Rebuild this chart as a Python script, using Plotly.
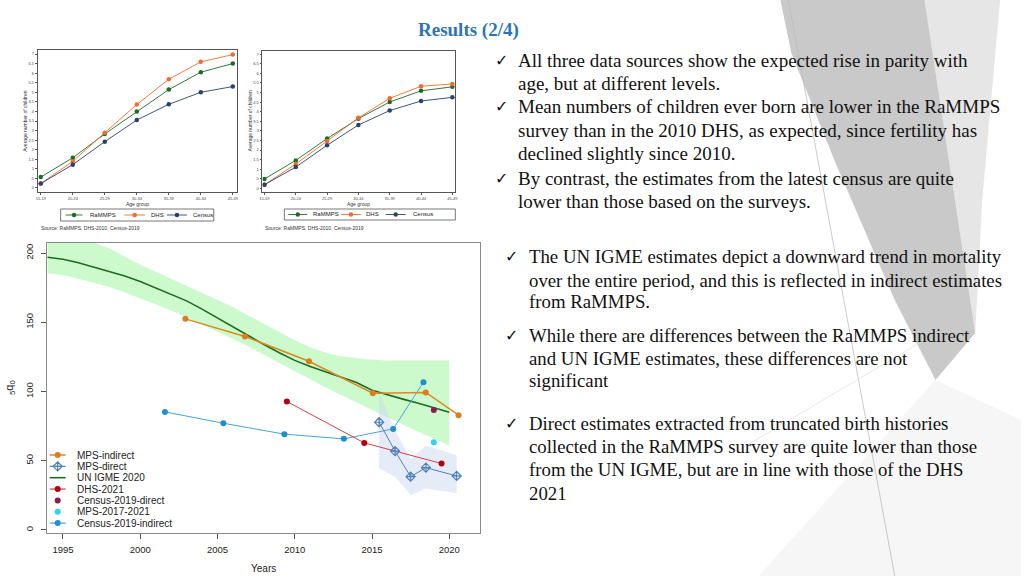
import plotly.graph_objects as go

W, H = 1024, 576

# ---------------- data: top panels (mean children ever born by age group) ----------------
age_groups = ["15-19", "20-24", "25-29", "30-34", "35-39", "40-44", "45-49"]
left_rammps = [0.57, 1.58, 2.82, 4.00, 5.14, 6.05, 6.50]
left_dhs = [0.23, 1.39, 2.89, 4.36, 5.68, 6.59, 6.97]
left_census = [0.23, 1.22, 2.42, 3.55, 4.37, 5.00, 5.30]
right_rammps = [0.49, 1.46, 2.60, 3.64, 4.51, 5.09, 5.30]
right_dhs = [0.19, 1.27, 2.47, 3.68, 4.70, 5.33, 5.45]
right_census = [0.19, 1.11, 2.25, 3.31, 4.06, 4.56, 4.75]
parity_tickvals = [0, 0.5, 1, 1.5, 2, 2.5, 3, 3.5, 4, 4.5, 5, 5.5, 6, 6.5, 7]
parity_ticktext = ["0", ".5", "1", "1.5", "2", "2.5", "3", "3.5", "4", "4.5", "5", "5.5", "6", "6.5", "7"]
top_series = ["RaMMPS", "DHS", "Census"]
top_source = "Source: RaMMPS, DHS-2010, Census-2019"

# ---------------- data: bottom panel (5q0) ----------------
igme_years = [1994, 1995, 1996, 1997, 1998, 1999, 2000, 2001, 2002, 2003, 2004, 2005, 2006, 2007,
              2008, 2009, 2010, 2011, 2012, 2013, 2014, 2015, 2016, 2017, 2018, 2019, 2020]
igme_median = [197, 195.5, 193, 190, 187, 183.5, 179.5, 175, 170.5, 165.5, 159.5, 153, 146.5, 140,
               134, 128, 122.5, 118, 114, 110.5, 106.5, 101, 97.5, 94.5, 91.5, 88, 85]
igme_lower = [185.5, 184, 181.5, 178.5, 175.5, 171.5, 167.5, 163, 158.5, 153.5, 148.5, 143.5, 138, 132.5,
              126.5, 120.5, 114.5, 108.5, 103, 97.5, 92, 86.5, 81, 76, 71, 66, 61]
igme_upper = [212, 211, 209.5, 207.5, 203.5, 197.5, 191.5, 186.5, 181.5, 176.5, 171.5, 166.5, 161, 155,
              149, 143, 137, 132, 128, 125.5, 124, 123, 122.5, 122.5, 122.5, 122.5, 122.5]
mps_indirect_x = [2002.92, 2006.78, 2010.92, 2015.05, 2018.48, 2020.6]
mps_indirect_y = [152.5, 139.8, 121.9, 98.8, 99.3, 82.9]
mps_direct_x = [2015.46, 2016.49, 2017.5, 2018.49, 2020.48]
mps_direct_y = [77.8, 57.0, 38.5, 45.0, 39.0]
mps_direct_upper = [98.8, 72.0, 51.0, 61.0, 54.0]
mps_direct_lower = [44.6, 38.5, 25.3, 30.0, 26.5]
dhs2021_x = [2009.49, 2014.5, 2019.5]
dhs2021_y = [92.8, 62.9, 48.0]
census_direct_x = [2019.0]
census_direct_y = [86.7]
mps1721_x = [2019.0]
mps1721_y = [63.4]
census_indirect_x = [2001.6, 2005.38, 2009.33, 2013.18, 2016.37, 2018.33]
census_indirect_y = [85.3, 77.1, 69.2, 65.8, 73.0, 106.7]
year_ticks = [1995, 2000, 2005, 2010, 2015, 2020]
q5_ticks = [0, 50, 100, 150, 200]

# ---------------- texts ----------------
title_text = "Results (2/4)"
block1 = [
    (True, "All three data sources show the expected rise in parity with"),
    (False, "age, but at different levels."),
    (True, "Mean numbers of children ever born are lower in the RaMMPS"),
    (False, "survey than in the 2010 DHS, as expected, since fertility has"),
    (False, "declined slightly since 2010."),
    (True, "By contrast, the estimates from the latest census are quite"),
    (False, "lower than those based on the surveys."),
]
block2 = [
    (True, "The UN IGME estimates depict a downward trend in mortality"),
    (False, "over the entire period, and this is reflected in indirect estimates"),
    (False, "from RaMMPS."),
    (True, "While there are differences between the RaMMPS indirect"),
    (False, "and UN IGME estimates, these differences are not"),
    (False, "significant"),
    (True, "Direct estimates extracted from truncated birth histories"),
    (False, "collected in the RaMMPS survey are quite lower than those"),
    (False, "from the UN IGME, but are in line with those of the DHS"),
    (False, "2021"),
]

# ---------------- helpers ----------------
def fx(x):
    return x / W


def fy(y):
    return 1 - y / H


def ppath(pts):
    return "M " + " L ".join(f"{fx(a):.5f},{fy(b):.5f}" for a, b in pts) + " Z"


SANS = "Liberation Sans, Arial, Helvetica, sans-serif"
SERIF = "Liberation Serif, Times New Roman, serif"

top_colors = {"RaMMPS": "#1d6b27", "DHS": "#f26b2b", "Census": "#28426c"}

bot_style = {
    "MPS-indirect": dict(line="#D98A22", marker="#E07B1F", symbol="circle", lw=1.5),
    "MPS-direct": dict(line="#4F82B8", marker="#4F82B8", symbol="diamond-cross-open", lw=1.0),
    "UN IGME 2020": dict(line="#1F6B1F", marker=None, symbol=None, lw=1.6),
    "DHS-2021": dict(line="#D04048", marker="#B00012", symbol="circle", lw=1.0),
    "Census-2019-direct": dict(line=None, marker="#8E1A4F", symbol="circle", lw=0),
    "MPS-2017-2021": dict(line=None, marker="#2ED3F0", symbol="circle", lw=0),
    "Census-2019-indirect": dict(line="#45A3DA", marker="#1E8FD0", symbol="circle", lw=1.0),
}

fig = go.Figure()

# ---------------- bottom panel ----------------
fig.add_trace(go.Scatter(x=igme_years, y=igme_lower, mode="lines", line=dict(width=0),
                         showlegend=False, hoverinfo="skip", xaxis="x", yaxis="y"))
fig.add_trace(go.Scatter(x=igme_years, y=igme_upper, mode="lines", line=dict(width=0),
                         fill="tonexty", fillcolor="rgb(204,250,204)",
                         showlegend=False, hoverinfo="skip", xaxis="x", yaxis="y"))
fig.add_trace(go.Scatter(x=mps_direct_x + mps_direct_x[::-1],
                         y=mps_direct_upper + mps_direct_lower[::-1],
                         mode="lines", line=dict(width=0), fill="toself",
                         fillcolor="rgba(200,210,240,0.45)",
                         showlegend=False, hoverinfo="skip", xaxis="x", yaxis="y"))


def add_bot(name, xs, ys):
    s = bot_style[name]
    mode = []
    if s["line"]:
        mode.append("lines")
    if s["marker"]:
        mode.append("markers")
    kw = dict(x=xs, y=ys, mode="+".join(mode), name=name, showlegend=False, xaxis="x", yaxis="y")
    if s["line"]:
        kw["line"] = dict(color=s["line"], width=s["lw"])
    if s["marker"]:
        if s["symbol"] == "diamond-cross-open":
            kw["marker"] = dict(color=s["marker"], symbol=s["symbol"], size=7, line=dict(width=1.2, color=s["marker"]))
        else:
            kw["marker"] = dict(color=s["marker"], symbol=s["symbol"], size=6)
    fig.add_trace(go.Scatter(**kw))


add_bot("UN IGME 2020", igme_years, igme_median)
add_bot("Census-2019-indirect", census_indirect_x, census_indirect_y)
add_bot("DHS-2021", dhs2021_x, dhs2021_y)
add_bot("MPS-direct", mps_direct_x, mps_direct_y)
add_bot("MPS-indirect", mps_indirect_x, mps_indirect_y)
add_bot("Census-2019-direct", census_direct_x, census_direct_y)
add_bot("MPS-2017-2021", mps1721_x, mps1721_y)

# ---------------- top panels ----------------
for xa, ya, series in (("x2", "y2", (left_rammps, left_dhs, left_census)),
                       ("x3", "y3", (right_rammps, right_dhs, right_census))):
    for name, vals in zip(top_series, series):
        fig.add_trace(go.Scatter(x=age_groups, y=vals, mode="lines+markers", name=name,
                                 line=dict(color=top_colors[name], width=0.9),
                                 marker=dict(color=top_colors[name], size=4.5),
                                 showlegend=False, xaxis=xa, yaxis=ya))

# ---------------- manual legends (overlay pixel axis x4/y4) ----------------
def key(x0, x1, y, lcolor, lw, mcolor=None, symbol="circle", msize=5):
    if lcolor:
        fig.add_trace(go.Scatter(x=[x0, x1], y=[y, y], mode="lines", line=dict(color=lcolor, width=lw),
                                 showlegend=False, hoverinfo="skip", xaxis="x4", yaxis="y4"))
    if mcolor:
        mk = dict(color=mcolor, symbol=symbol, size=msize)
        if symbol.endswith("open"):
            mk["line"] = dict(width=1.2, color=mcolor)
        fig.add_trace(go.Scatter(x=[(x0 + x1) / 2], y=[y], mode="markers", marker=mk,
                                 showlegend=False, hoverinfo="skip", xaxis="x4", yaxis="y4"))


annotations = []
shapes = []

# bottom legend
leg_y0, leg_dy = 455, 11.35
for i, name in enumerate(bot_style):
    s = bot_style[name]
    y = leg_y0 + i * leg_dy
    key(47, 63, y, s["line"], max(s["lw"], 1.2), s["marker"], s["symbol"] or "circle",
        7 if s["symbol"] == "diamond-cross-open" else 6)
    annotations.append(dict(x=fx(72), y=fy(y), xref="paper", yref="paper", text=name, showarrow=False,
                            xanchor="left", yanchor="middle", font=dict(family=SANS, size=10, color="#222")))

# top legends
top_leg = [
    dict(box=(58, 209, 212, 221), keys=[(63, 80), (122, 143), (165, 185)], texts=[85, 147, 189]),
    dict(box=(283, 209, 455, 220), keys=[(287, 306), (340, 360), (385, 405)], texts=[310, 363, 410]),
]
for lg in top_leg:
    x0, y0, x1, y1 = lg["box"]
    shapes.append(dict(type="rect", xref="paper", yref="paper", x0=fx(x0), x1=fx(x1), y0=fy(y1), y1=fy(y0),
                       line=dict(color="#555", width=0.8), fillcolor="white", layer="below"))
    yc = (y0 + y1) / 2
    for name, (k0, k1), tx in zip(top_series, lg["keys"], lg["texts"]):
        key(k0, k1, yc, top_colors[name], 0.9, top_colors[name], "circle", 4.5)
        annotations.append(dict(x=fx(tx), y=fy(yc), xref="paper", yref="paper", text=name, showarrow=False,
                                xanchor="left", yanchor="middle", font=dict(family=SANS, size=6, color="#222")))

# ---------------- decorative slide background ----------------
shapes += [
    dict(type="path", xref="paper", yref="paper", layer="below", line=dict(width=0), fillcolor="#f6f6f6",
         path=ppath([(760, 576), (1024, 576), (1024, 420), (938, 380)])),
    dict(type="path", xref="paper", yref="paper", layer="below", line=dict(width=0), fillcolor="#e6e6e6",
         path=ppath([(927, 0), (1003, 0), (985, 200), (978, 333)])),
    dict(type="path", xref="paper", yref="paper", layer="below", line=dict(width=0), fillcolor="#c9c9c9",
         path=ppath([(782, 0), (927, 0), (978, 333), (938, 380), (897, 300), (837, 162), (793, 53)])),
    dict(type="line", xref="paper", yref="paper", layer="below", line=dict(color="#bdbdbd", width=0.8),
         x0=fx(790), y0=fy(0), x1=fx(897), y1=fy(576)),
    dict(type="line", xref="paper", yref="paper", layer="below", line=dict(color="#e2e2e2", width=0.8),
         x0=fx(740), y0=fy(450), x1=fx(927), y1=fy(340)),
]

# ---------------- texts ----------------
annotations.append(dict(x=fx(468), y=fy(30), xref="paper", yref="paper", text=f"<b>{title_text}</b>",
                        showarrow=False, xanchor="center", yanchor="middle",
                        font=dict(family=SERIF, size=19, color="#2E74B5")))

for lines, ys, chk_x, txt_x, fsize in (
        (block1, [60.5, 83.3, 106.7, 130, 153, 178, 201.5], 493, 516, 19),
        (block2, [256.7, 280, 301.7, 335, 358.3, 380, 423.3, 446.7, 469.3, 493.3], 503, 527, 18.8)):
    for (chk, text), y in zip(lines, ys):
        if chk:
            annotations.append(dict(x=fx(chk_x), y=fy(y), xref="paper", yref="paper", text="✓", showarrow=False,
                                    xanchor="left", yanchor="middle",
                                    font=dict(family="DejaVu Sans", size=16, color="#111")))
        annotations.append(dict(x=fx(txt_x), y=fy(y), xref="paper", yref="paper", text=text, showarrow=False,
                                xanchor="left", yanchor="middle", font=dict(family=SERIF, size=fsize, color="#111")))

# top panel axis titles and sources
for cx, ytx, sx in ((135, 22, 36), (358, 248, 262)):
    annotations.append(dict(x=fx(cx), y=fy(203.5), xref="paper", yref="paper", text="Age group", showarrow=False,
                            xanchor="center", yanchor="middle", font=dict(family=SANS, size=5, color="#333")))
    annotations.append(dict(x=fx(ytx), y=fy(121), xref="paper", yref="paper", text="Average number of children",
                            showarrow=False, textangle=-90, xanchor="center", yanchor="middle",
                            font=dict(family=SANS, size=5, color="#333")))
    annotations.append(dict(x=fx(sx), y=fy(228), xref="paper", yref="paper", text=top_source, showarrow=False,
                            xanchor="left", yanchor="middle", font=dict(family=SANS, size=5, color="#333")))

# bottom axis titles
annotations.append(dict(x=fx(262), y=fy(576), xref="paper", yref="paper", text="Years", showarrow=False,
                        xanchor="center", yanchor="bottom", font=dict(family=SANS, size=10, color="#222")))
annotations.append(dict(x=fx(7), y=fy(387), xref="paper", yref="paper", text="<sub>5</sub>q<sub>0</sub>",
                        showarrow=False, textangle=-90, xanchor="center", yanchor="middle",
                        font=dict(family=SANS, size=11, color="#222")))

top_axis = dict(showline=True, mirror=True, linecolor="#555", linewidth=0.8, ticks="outside", ticklen=2,
                tickwidth=0.5, tickcolor="#555", tickfont=dict(family=SANS, size=4, color="#444"),
                showgrid=False, zeroline=False)

fig.update_layout(
    width=W, height=H, autosize=False,
    margin=dict(l=0, r=0, t=0, b=0),
    paper_bgcolor="white", plot_bgcolor="rgba(0,0,0,0)",
    showlegend=False,
    font=dict(family=SANS),
    xaxis=dict(domain=[fx(44), fx(480)], range=[1993.95, 2022.0], tickvals=year_ticks,
               showline=True, mirror=True, linecolor="#8a8a8a", linewidth=1, ticks="outside", ticklen=5,
               tickcolor="#555", tickfont=dict(family=SANS, size=9.5, color="#222"), ticklabelstandoff=3,
               showgrid=False, zeroline=False, anchor="y"),
    yaxis=dict(domain=[fy(533), fy(243)], range=[-2.2, 207.3], tickvals=q5_ticks, tickangle=-90,
               showline=True, mirror=True, linecolor="#8a8a8a", linewidth=1, ticks="outside", ticklen=5,
               tickcolor="#555", tickfont=dict(family=SANS, size=9.5, color="#222"), ticklabelstandoff=4,
               showgrid=False, zeroline=False, anchor="x"),
    xaxis2=dict(top_axis, domain=[fx(35), fx(235)], range=[-0.093, 6.12], anchor="y2", type="category"),
    yaxis2=dict(top_axis, domain=[fy(192), fy(50)], range=[-0.21, 7.21], anchor="x2",
                tickvals=parity_tickvals, ticktext=parity_ticktext),
    xaxis3=dict(top_axis, domain=[fx(261), fx(455)], range=[-0.063, 6.095], anchor="y3", type="category"),
    yaxis3=dict(top_axis, domain=[fy(192), fy(51)], range=[-0.19, 7.17], anchor="x3",
                tickvals=parity_tickvals, ticktext=parity_ticktext),
    xaxis4=dict(domain=[0, 1], range=[0, W], visible=False, anchor="y4", fixedrange=True),
    yaxis4=dict(domain=[0, 1], range=[H, 0], visible=False, anchor="x4", fixedrange=True),
    annotations=annotations,
    shapes=shapes,
)

fig.write_html("out.html", config={"displayModeBar": False},
               post_script="document.body.style.margin='0';document.body.style.overflow='hidden';")
